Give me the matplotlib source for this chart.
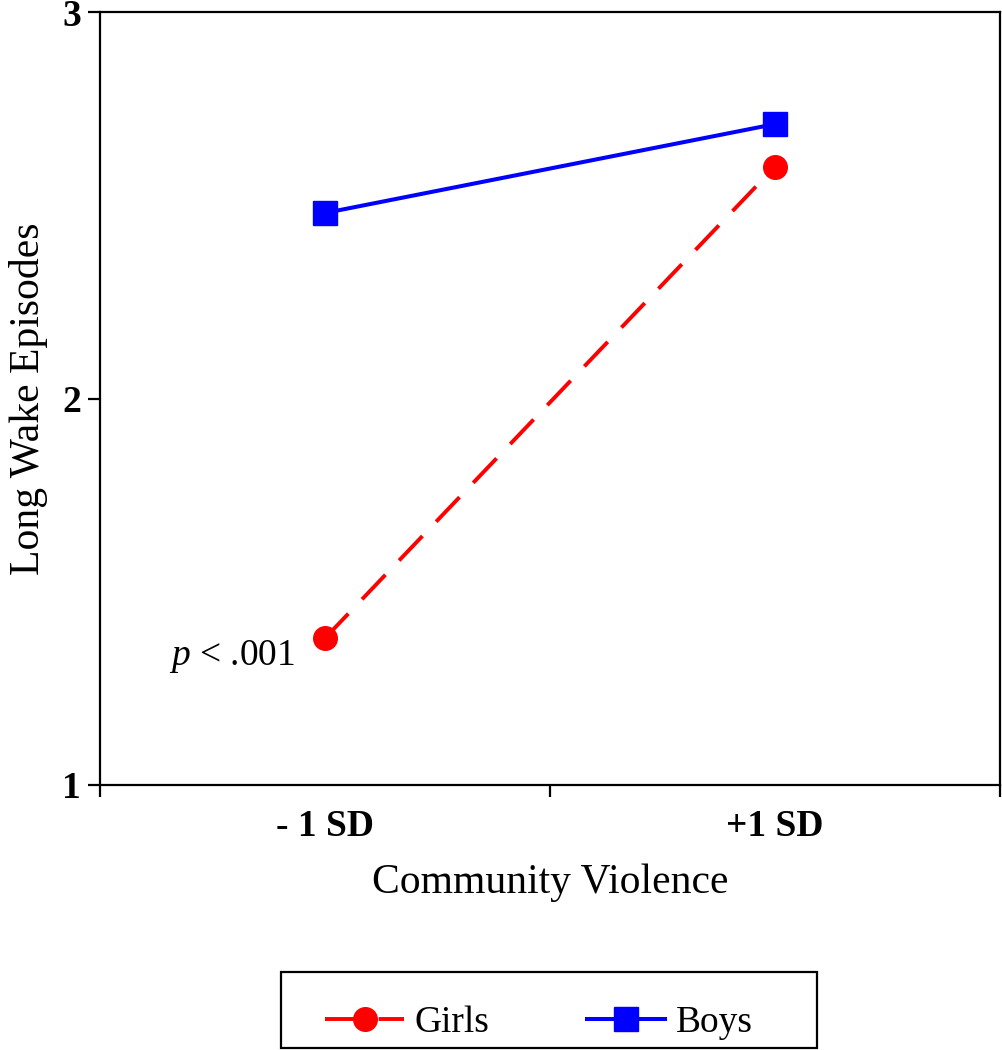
import numpy as np
import matplotlib
matplotlib.use("Agg")
import matplotlib.pyplot as plt
from matplotlib.patches import Rectangle

plt.rcParams['font.family'] = ['Liberation Serif', 'DejaVu Serif']
plt.rcParams['mathtext.fontset'] = 'custom'
plt.rcParams['mathtext.it'] = 'Liberation Serif:italic'
plt.rcParams['mathtext.rm'] = 'Liberation Serif'

# dados
categorias = ['- 1 SD', '+1 SD']
meninas = [1.38, 2.60]
meninos = [2.48, 2.71]
nota = r'$p$ < .001'

fig = plt.figure(figsize=(10.02, 10.5), dpi=100)
ax = fig.add_axes([100/1002, 1 - 785/1050, 900/1002, 773/1050])

x = np.arange(len(categorias)) + 0.5

ax.plot(x, meninas, color='#ff0000', lw=2.8, dashes=(8.7, 5.1),
        dash_capstyle='butt', marker='o', markersize=17, label='Girls')
ax.plot(x, meninos, color='#0000ff', lw=2.9, marker='s', markersize=17,
        label='Boys')

ax.text(x[0] - 0.067, 1.31, nota, fontsize=27, ha='right', va='baseline')

ax.set_xlim(0, len(categorias))
ax.set_ylim(1, 3)
ax.set_yticks([1, 2, 3])
ax.set_yticklabels(['1', '2', '3'], fontweight='bold', fontsize=27)
ax.set_xticks(np.arange(len(categorias) + 1))
ax.set_xticklabels([])
ax.set_xticks(x, minor=True)
ax.set_xticklabels(categorias, minor=True, fontweight='bold', fontsize=27)
ax.tick_params(axis='both', which='major', direction='out', length=8.6,
               width=1.6, pad=5)
ax.tick_params(axis='x', which='minor', length=0, pad=17)

for s in ax.spines.values():
    s.set_linewidth(1.6)

ax.set_xlabel('Community Violence', fontsize=30, labelpad=14)
ax.set_ylabel('Long Wake Episodes', fontsize=30, labelpad=10)

# legenda com caixa desenhada a parte
fig.patches.append(Rectangle((281/1002, 1 - 1048/1050), 536/1002, 76/1050,
                             transform=fig.transFigure, fill=False,
                             edgecolor='black', lw=1.6))
fig.legend(loc='center', bbox_to_anchor=(539/1002, 1 - 1023/1050), ncol=2,
           frameon=False, fontsize=27, handlelength=2.1, handletextpad=0.27,
           columnspacing=2.6, borderpad=0)

fig.savefig('out.png', dpi=100)
